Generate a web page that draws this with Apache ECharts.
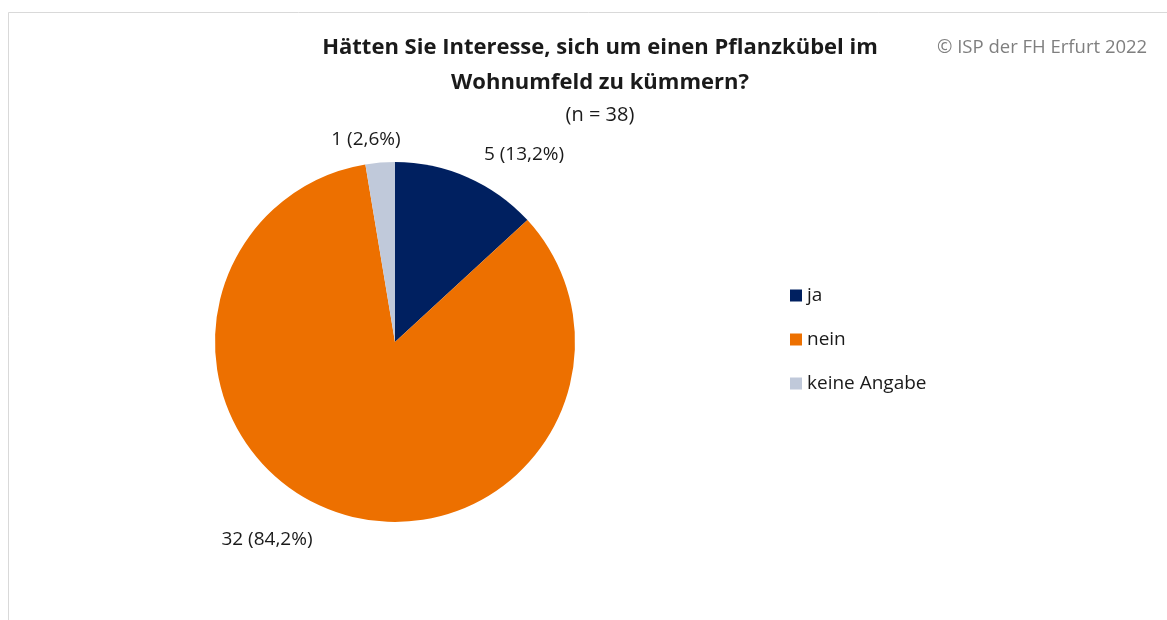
<!DOCTYPE html>
<html>
<head>
<meta charset="utf-8">
<script src="https://cdn.jsdelivr.net/npm/echarts@6/dist/echarts.min.js"></script>
<style>
  html, body { margin: 0; padding: 0; background: #fff; }
  #chart { width: 1167px; height: 620px; }
</style>
</head>
<body>
<div id="chart"></div>
<script>
// Antworten und Anzahl
const categories = ['ja', 'nein', 'keine Angabe']
const counts = [5, 32, 1]
const colors = ['#002060', '#ED7000', '#C0C9DA']
const total = counts.reduce((a, b) => a + b, 0)

const chart = echarts.init(document.getElementById('chart'))
const font = 'Open Sans'

chart.setOption({
  backgroundColor: '#fff',
  animation: false,
  title: [
    {
      text: 'Hätten Sie Interesse, sich um einen Pflanzkübel im\nWohnumfeld zu kümmern?',
      left: 595,
      top: 25,
      textAlign: 'center',
      textStyle: {
        color: '#1a1a1a',
        fontFamily: font,
        fontWeight: 'bold',
        fontSize: 22,
        lineHeight: 35
      }
    },
    {
      text: '(n = ' + total + ')',
      left: 595,
      top: 100,
      textAlign: 'center',
      textStyle: {
        color: '#1a1a1a',
        fontFamily: font,
        fontWeight: 'normal',
        fontSize: 20
      }
    },
    {
      text: '© ISP der FH Erfurt 2022',
      left: 932,
      top: 33,
      textStyle: {
        color: '#7f7f7f',
        fontFamily: font,
        fontWeight: 'normal',
        fontSize: 18.5
      }
    }
  ],
  graphic: [
    {
      type: 'rect',
      shape: { x: 8.5, y: 12.5, width: 1200, height: 700 },
      style: { fill: 'none', stroke: '#d9d9d9', lineWidth: 1 },
      silent: true
    }
  ],
  legend: {
    orient: 'vertical',
    left: 785,
    top: 281,
    itemWidth: 12,
    itemHeight: 12,
    itemGap: 25,
    icon: 'rect',
    textStyle: { color: '#1a1a1a', fontFamily: font, fontSize: 19 },
    data: categories
  },
  series: [
    {
      type: 'pie',
      center: [395, 342],
      radius: 180,
      startAngle: 90,
      clockwise: true,
      color: colors,
      label: {
        show: true,
        position: 'outside',
        color: '#1a1a1a',
        fontFamily: font,
        fontSize: 19,
        formatter: p => p.value + ' (' + (p.value / total * 100).toFixed(1).replace('.', ',') + '%)'
      },
      labelLine: { show: false },
      labelLayout: function (params) {
        const pos = [[524, 155], [267, 540], [366, 140]]
        const p = pos[params.dataIndex]
        return { x: p[0], y: p[1], align: 'center', verticalAlign: 'middle' }
      },
      emphasis: { disabled: true },
      data: categories.map((c, i) => ({ name: c, value: counts[i] }))
    }
  ]
})
</script>
</body>
</html>
